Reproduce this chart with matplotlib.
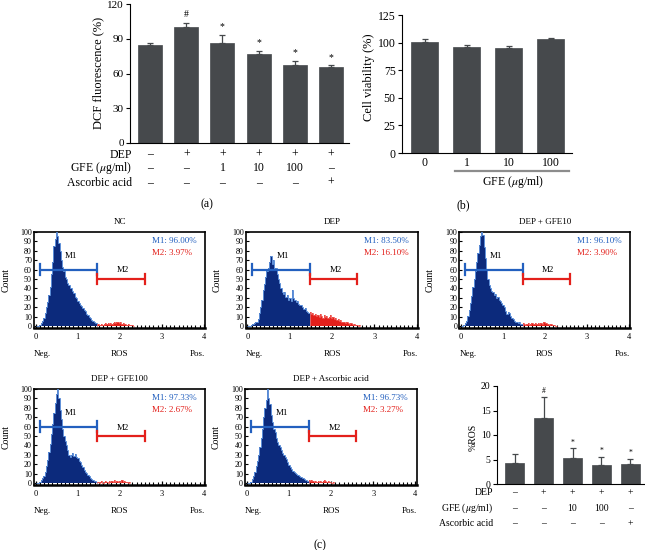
import numpy as np
import matplotlib
matplotlib.use("Agg")
import matplotlib.pyplot as plt
from matplotlib.lines import Line2D
from matplotlib.transforms import blended_transform_factory

plt.rcParams['font.family'] = ['Liberation Serif', 'DejaVu Serif']
plt.rcParams['mathtext.fontset'] = 'stix'

# ---------------- data ----------------
# (a) DCF fluorescence
a_vals = [85, 100, 86, 76.5, 67.5, 65.3]
a_err = [1.5, 4, 7.5, 3, 3.5, 1.7]
a_marks = ['', '#', '*', '*', '*', '*']
a_dep = ['–', '+', '+', '+', '+', '+']
a_gfe = ['–', '–', '1', '10', '100', '–']
a_asc = ['–', '–', '–', '–', '–', '+']

# (b) cell viability
b_labels = ['0', '1', '10', '100']
b_vals = [100.2, 95.7, 95.3, 103.2]
b_err = [2.8, 2.0, 1.3, 0.8]

# (c) %ROS
c_vals = [4.35, 13.4, 5.35, 3.8, 4.0]
c_err = [1.7, 4.4, 1.9, 1.8, 1.2]
c_marks = ['', '#', '*', '*', '*']
c_dep = ['–', '+', '+', '+', '+']
c_gfe = ['–', '–', '10', '100', '–']
c_asc = ['–', '–', '–', '–', '+']

# flow cytometry histograms (counts per bin, bin width 0.03 from 0)
BIN_W = 0.03
GATE = 1.47
M1_RANGE = (0.1, 1.47)
M2_RANGE = (1.47, 2.6)
hist_nc = [0, 0, 0, 1, 3, 6, 9, 14, 20, 26, 33, 42, 55, 68, 85, 92, 100, 95, 88, 80,
           70, 63, 58, 52, 50, 46, 44, 41, 40, 37, 35, 31, 30, 27, 25, 22, 21, 19, 17, 16,
           13, 12, 10, 9, 7, 6, 5, 3, 3, 2, 1, 1, 2, 1, 2, 3, 2, 3, 2, 3,
           2, 3, 4, 3, 4, 5, 3, 4, 2, 3, 2, 2, 1, 2, 1, 1, 1, 0]
hist_dep = [0, 0, 0, 1, 2, 3, 5, 4, 8, 14, 20, 28, 38, 45, 52, 58, 62, 68, 74, 66,
            70, 60, 62, 55, 50, 46, 40, 36, 34, 36, 31, 33, 28, 30, 27, 38, 30, 28, 26, 27,
            24, 22, 23, 20, 18, 19, 16, 15, 14, 15, 13, 14, 12, 13, 11, 12, 10, 13, 11, 9,
            12, 10, 11, 9, 10, 12, 9, 10, 8, 9, 7, 8, 6, 7, 5, 4, 5, 3, 4, 3,
            2, 3, 2, 1, 2, 1, 1, 0, 1]
hist_gfe10 = [0, 0, 1, 3, 6, 11, 17, 25, 32, 42, 50, 58, 68, 78, 86, 95, 100, 96, 84, 72,
              60, 50, 44, 40, 37, 36, 33, 34, 30, 31, 28, 27, 25, 22, 20, 16, 13, 15, 14, 11,
              9, 8, 6, 5, 5, 3, 4, 2, 2, 3, 2, 1, 2, 3, 1, 2, 3, 2, 2, 3,
              2, 3, 2, 3, 2, 4, 5, 3, 2, 2, 1, 2, 1, 1, 1, 0]
hist_gfe100 = [0, 0, 0, 1, 3, 5, 8, 12, 18, 25, 33, 42, 52, 63, 75, 85, 95, 100, 90, 78,
               68, 58, 50, 45, 40, 35, 30, 28, 30, 32, 29, 31, 28, 27, 24, 22, 19, 17, 14, 12,
               11, 9, 8, 5, 4, 3, 2, 2, 1, 1, 0, 1, 2, 0, 1, 2, 1, 0, 2, 1,
               2, 1, 3, 1, 2, 1, 2, 1, 3, 1, 2, 1, 1, 0, 1]
hist_asc = [0, 0, 0, 1, 4, 8, 12, 18, 24, 30, 38, 48, 58, 70, 80, 88, 100, 90, 84, 72,
            65, 58, 54, 48, 44, 40, 38, 35, 32, 30, 28, 26, 22, 19, 17, 15, 13, 12, 11, 10,
            9, 8, 7, 6, 5, 4, 3, 3, 2, 3, 2, 3, 2, 1, 2, 1, 2, 1, 2, 1,
            2, 3, 2, 1, 2, 1, 1, 0, 1]

hists = [
    ('NC', hist_nc, 'M1: 96.00%', 'M2: 3.97%'),
    ('DEP', hist_dep, 'M1: 83.50%', 'M2: 16.10%'),
    ('DEP + GFE10', hist_gfe10, 'M1: 96.10%', 'M2: 3.90%'),
    ('DEP + GFE100', hist_gfe100, 'M1: 97.33%', 'M2: 2.67%'),
    ('DEP + Ascorbic acid', hist_asc, 'M1: 96.73%', 'M2: 3.27%'),
]

# ---------------- layout helpers ----------------
W, H = 645, 550
fig = plt.figure(figsize=(W / 100, H / 100), dpi=100)
fig.patch.set_facecolor('white')


def fx(px):
    return px / W


def fy(py):
    return 1 - py / H


def add_ax(l, t, r, b):
    return fig.add_axes([l / W, 1 - b / H, (r - l) / W, (b - t) / H])


BAR = '#46494c'


def bar_panel(ax, vals, errs, width, fs):
    x = np.arange(len(vals))
    ax.bar(x, vals, width=width, color=BAR, edgecolor=BAR, linewidth=0.5, zorder=2)
    ax.errorbar(x, vals, yerr=[np.zeros(len(vals)), errs], fmt='none',
                ecolor=BAR, elinewidth=0.9, capsize=2.2, capthick=0.9, zorder=1)
    for s in ['top', 'right']:
        ax.spines[s].set_visible(False)
    for s in ['left', 'bottom']:
        ax.spines[s].set_linewidth(0.8)
    ax.set_xticks([])
    ax.tick_params(axis='y', labelsize=fs, length=3, width=0.8, pad=1.5)
    return x


def row_labels(ax, rows, xlab_px, fs):
    trans = blended_transform_factory(ax.transData, fig.transFigure)
    for name, ypx, vals in rows:
        fig.text(fx(xlab_px), fy(ypx), name, ha='right', va='center', fontsize=fs)
        for i, v in enumerate(vals):
            ax.text(i, fy(ypx), v, transform=trans, ha='center', va='center',
                    fontsize=fs, clip_on=False)


# ---------------- panel (a) ----------------
axa = add_ax(130, 4, 349, 143)
xa = bar_panel(axa, a_vals, a_err, 0.667, 8)
axa.set_xlim(-0.556, 5.5)
axa.set_ylim(0, 120)
axa.set_yticks([0, 30, 60, 90, 120])
for i, m in enumerate(a_marks):
    if m:
        axa.text(i, a_vals[i] + a_err[i] + 3, m, ha='center', va='bottom', fontsize=7)
fig.text(fx(98), fy(73), 'DCF fluorescence (%)', rotation=90, ha='center', va='center', fontsize=9)
row_labels(axa, [('DEP', 154.5, a_dep), ('GFE ($\\mu$g/ml)', 168, a_gfe),
                 ('Ascorbic acid', 183, a_asc)], 132, 8.5)
fig.text(fx(207), fy(204), '(a)', ha='center', va='center', fontsize=8.5)

# ---------------- panel (b) ----------------
axb = add_ax(402, 15, 572, 153)
xb = bar_panel(axb, b_vals, b_err, 0.643, 8.5)
axb.set_xlim(-0.536, 3.5)
axb.set_ylim(0, 125)
axb.set_yticks([0, 25, 50, 75, 100, 125])
axb.set_xticks(xb)
axb.set_xticklabels(b_labels, fontsize=8.5)
axb.tick_params(axis='x', length=0, pad=3)
fig.text(fx(369), fy(77), 'Cell viability (%)', rotation=90, ha='center', va='center', fontsize=9)
fig.add_artist(Line2D([fx(455), fx(569)], [fy(171), fy(171)], color='#8c8c8c', lw=1.6))
fig.text(fx(513), fy(182), 'GFE ($\\mu$g/ml)', ha='center', va='center', fontsize=8.5)
fig.text(fx(463), fy(205), '(b)', ha='center', va='center', fontsize=8.5)

# ---------------- histograms (c) ----------------
NAVY = '#0c2a7c'
EDGE = '#5d8fd8'
RED = '#e3201b'
BLUE = '#2360bf'

hist_boxes = [
    (34, 231.7, 205, 327.7, 6),
    (245.7, 231.7, 418, 327.7, 217),
    (459.3, 231.7, 630, 327.7, 430),
    (34, 389, 205, 484.5, 6),
    (245, 389, 416.7, 484.5, 216),
]

for (title, counts, t1, t2), (l, t, r, b, cx) in zip(hists, hist_boxes):
    ax = add_ax(l, t, r, b)
    counts = np.asarray(counts, dtype=float)
    edges = np.arange(len(counts) + 1) * BIN_W
    g = int(round(GATE / BIN_W))
    ax.stairs(counts[:g], edges[:g + 1], fill=True, color=NAVY, zorder=2)
    ax.stairs(counts[:g], edges[:g + 1], color=EDGE, lw=0.7, zorder=3)
    ax.stairs(counts[g:], edges[g:], fill=True, color=RED, zorder=2)
    ax.stairs(counts[g:], edges[g:], color='#f05a55', lw=0.6, zorder=3)
    # markers
    y1, y2 = 60, 50
    ax.plot(M1_RANGE, [y1, y1], color=BLUE, lw=1.6, zorder=4, solid_capstyle='butt')
    for xx in M1_RANGE:
        ax.plot([xx, xx], [y1 - 5.5, y1 + 5.5], color=BLUE, lw=1.6, zorder=4)
    ax.plot(M2_RANGE, [y2, y2], color=RED, lw=1.6, zorder=4, solid_capstyle='butt')
    for xx in M2_RANGE:
        ax.plot([xx, xx], [y2 - 5.5, y2 + 5.5], color=RED, lw=1.6, zorder=4)
    ax.text(0.83, 74, 'M1', ha='center', va='center', fontsize=6.5, zorder=5)
    ax.text(2.08, 59, 'M2', ha='center', va='center', fontsize=6.5, zorder=5)
    ax.text(2.76, 90, t1, ha='left', va='center', fontsize=6.5, color=BLUE)
    ax.text(2.76, 77.5, t2, ha='left', va='center', fontsize=6.5, color=RED)

    ax.set_xlim(-0.04, 4.03)
    ax.set_ylim(-1.5, 100)
    ax.set_yticks(np.arange(0, 101, 10))
    ax.set_xticks([0, 1, 2, 3, 4])
    ax.set_xticks(np.arange(0, 4.01, 0.1), minor=True)
    ax.tick_params(axis='y', labelsize=5.8, direction='in', length=2, width=0.8, pad=1.5)
    ax.tick_params(axis='x', which='major', labelsize=6, direction='in', length=3, width=0.9, pad=4)
    ax.tick_params(axis='x', which='minor', direction='in', length=2.2, width=0.8)
    for s in ['top', 'right', 'left']:
        ax.spines[s].set_linewidth(1.2)
    ax.spines['bottom'].set_linewidth(1.8)
    hpx = b - t
    wpx = r - l
    ax.text(0.5, 1 + 9.7 / hpx, title, transform=ax.transAxes, ha='center', va='center', fontsize=6.5)
    ax.text(0.0, -26.5 / hpx, 'Neg.', transform=ax.transAxes, ha='left', va='center', fontsize=6.5)
    ax.text(2.0, -26.5 / hpx, 'ROS', transform=blended_transform_factory(ax.transData, ax.transAxes),
            ha='center', va='center', fontsize=6.5)
    ax.text(1.0, -26.5 / hpx, 'Pos.', transform=ax.transAxes, ha='right', va='center', fontsize=6.5)
    ax.text((cx - l) / wpx, 0.5, 'Count', transform=ax.transAxes, rotation=90,
            ha='center', va='center', fontsize=7)

# ---------------- %ROS panel ----------------
axc = add_ax(496.7, 386, 644, 484)
xc = bar_panel(axc, c_vals, c_err, 0.66, 7)
axc.set_xlim(-0.62, 4.47)
axc.set_ylim(0, 20)
axc.set_yticks([0, 5, 10, 15, 20])
for i, m in enumerate(c_marks):
    if m:
        axc.text(i, c_vals[i] + c_err[i] + 0.4, m, ha='center', va='bottom', fontsize=5.5)
fig.text(fx(473), fy(437), '%ROS', rotation=90, ha='center', va='center', fontsize=7)
row_labels(axc, [('DEP', 492.7, c_dep), ('GFE ($\\mu$g/ml)', 508.3, c_gfe),
                 ('Ascorbic acid', 524, c_asc)], 493, 7)
fig.text(fx(320), fy(545), '(c)', ha='center', va='center', fontsize=8.5)

fig.savefig('out.png', dpi=100, facecolor='white')
